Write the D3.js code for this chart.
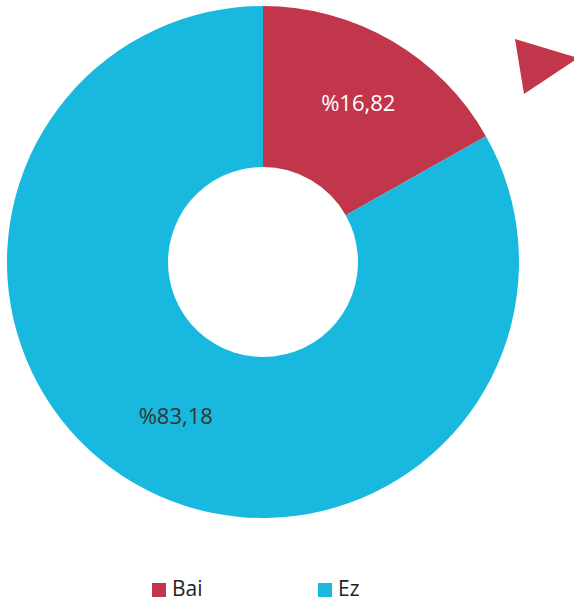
<!DOCTYPE html>
<html>
<head>
<meta charset="utf-8">
<script src="https://cdn.jsdelivr.net/npm/d3@7"></script>
<style>
  body { margin: 0; background: #fff; }
  svg { display: block; font-family: "Open Sans", "Noto Sans", sans-serif; }
</style>
</head>
<body>
<svg id="chart" width="574" height="602"></svg>
<script>
// data
const categories = ["Bai", "Ez"];
const values = [16.82, 83.18];
const labels = ["%16,82", "%83,18"];
const colors = ["#c1364b", "#19b9df"];
const labelColors = ["#ffffff", "#333333"];

const width = 574, height = 602;
const cx = 263, cy = 262;
const outerR = 256, innerR = 95;

const svg = d3.select("#chart");

const pie = d3.pie().sort(null).value(d => d.value);
const data = categories.map((c, i) => ({ name: c, value: values[i], label: labels[i], i: i }));
const arcs = pie(data);

const arc = d3.arc().innerRadius(innerR).outerRadius(outerR);
const labelArc = d3.arc().innerRadius(181).outerRadius(181);

const g = svg.append("g").attr("transform", `translate(${cx},${cy})`);

g.selectAll("path.slice")
  .data(arcs)
  .enter()
  .append("path")
  .attr("class", "slice")
  .attr("d", arc)
  .attr("fill", d => colors[d.data.i]);

// labels, nudged a little to sit where the original puts them
g.selectAll("text.lbl")
  .data(arcs)
  .enter()
  .append("text")
  .attr("class", "lbl")
  .attr("transform", d => {
    const c = labelArc.centroid(d);
    return `translate(${c[0] + 4},${c[1] - 2})`;
  })
  .attr("text-anchor", "middle")
  .attr("dy", "0.35em")
  .attr("font-size", 22)
  .attr("fill", d => labelColors[d.data.i])
  .text(d => d.data.label);

// little pointer in the top right corner
svg.append("path")
  .attr("d", "M515,39 L578,58 L524,94 Z")
  .attr("fill", colors[0]);

// legend
const legendX = d3.scalePoint().domain(categories).range([152, 318]);
const legend = svg.append("g")
  .selectAll("g")
  .data(categories)
  .enter()
  .append("g")
  .attr("transform", d => `translate(${legendX(d)},583)`);

legend.append("rect")
  .attr("width", 14)
  .attr("height", 14)
  .attr("fill", (d, i) => colors[i]);

legend.append("text")
  .attr("x", 20)
  .attr("y", 13)
  .attr("font-size", 21)
  .attr("fill", "#222")
  .text(d => d);
</script>
</body>
</html>
